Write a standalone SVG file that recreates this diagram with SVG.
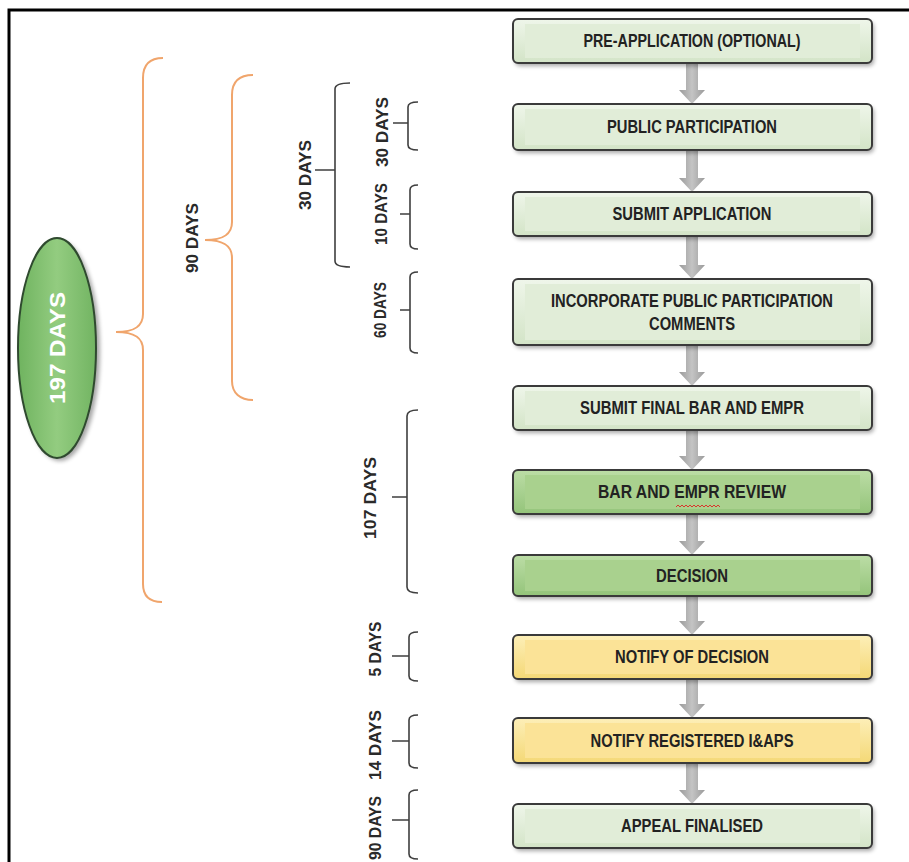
<svg xmlns="http://www.w3.org/2000/svg" width="909" height="862" viewBox="0 0 909 862">
<defs>
<linearGradient id="gL" x1="0" y1="0" x2="0" y2="1"><stop offset="0" stop-color="#eff6ea"/><stop offset="1" stop-color="#d3e4c7"/></linearGradient>
<linearGradient id="gD" x1="0" y1="0" x2="0" y2="1"><stop offset="0" stop-color="#bcdda6"/><stop offset="1" stop-color="#94c47a"/></linearGradient>
<linearGradient id="gY" x1="0" y1="0" x2="0" y2="1"><stop offset="0" stop-color="#fdefb8"/><stop offset="1" stop-color="#f4d876"/></linearGradient>
<linearGradient id="gE" x1="0" y1="0" x2="1" y2="0"><stop offset="0" stop-color="#6fb35f"/><stop offset="0.5" stop-color="#93cc80"/><stop offset="1" stop-color="#72b462"/></linearGradient>
<linearGradient id="gA" x1="0" y1="0" x2="1" y2="0"><stop offset="0" stop-color="#9a9a9a"/><stop offset="0.5" stop-color="#c4c4c4"/><stop offset="1" stop-color="#9a9a9a"/></linearGradient>
<filter id="sh" x="-10%" y="-20%" width="120%" height="150%"><feGaussianBlur stdDeviation="2"/></filter>
</defs>
<style>
.frame{fill:none;stroke:#000;stroke-width:3}
.box{stroke:#3a3a3a;stroke-width:2}
.light{fill:url(#gL)}
.dark{fill:url(#gD)}
.yel{fill:url(#gY)}
.inL{fill:#e1edd8}
.inD{fill:#a9d18e}
.inY{fill:#fbe397}
.shadow{fill:#000;opacity:.35}
.lbl{font-family:"Liberation Sans",Arial,sans-serif;font-weight:bold;font-size:18px;fill:#222;text-anchor:middle}
.side{font-family:"Liberation Sans",Arial,sans-serif;font-weight:bold;font-size:17px;fill:#2a2a2a;text-anchor:middle}
.brace{fill:none;stroke:#f0a56c;stroke-width:2}
.brk{fill:none;stroke:#3f3f3f;stroke-width:1.6}
.arrow{fill:url(#gA)}
</style>
<rect width="909" height="862" fill="#fff"/>
<path class="frame" d="M9,862 L9,10 L909,10"/>

<g id="total">
<ellipse cx="60" cy="351" rx="40" ry="110" class="shadow" filter="url(#sh)"/>
<ellipse cx="57" cy="348" rx="39" ry="110" fill="url(#gE)" stroke="#2f4a2f" stroke-width="2"/>
<text transform="translate(57,348) rotate(-90)" x="0" y="8" font-family="'Liberation Sans',Arial,sans-serif" font-weight="bold" font-size="22" fill="#fff" text-anchor="middle" textLength="112" lengthAdjust="spacingAndGlyphs">197 DAYS</text>
</g>

<g id="brackets">
<path class="brace" d="M163,58 C150,58 143,64 143,78 L143,314 C143,326 135,332 116,332 C135,332 143,338 143,350 L143,584 C143,596 150,602 162,602"/>
<path class="brace" d="M253,75 C240,75 232,81 232,95 L232,222 C232,234 224,240 205,240 C224,240 232,246 232,258 L232,381 C232,393 240,400 253,400"/>
<text class="side" transform="translate(192,238) rotate(-90)" x="0" y="6" textLength="70" lengthAdjust="spacingAndGlyphs">90  DAYS</text>

<path class="brk" d="M350,83 Q335,83 335,89 L335,261 Q335,267 350,267 M315,170 L335,170"/>
<text class="side" transform="translate(305,175) rotate(-90)" x="0" y="6" textLength="70" lengthAdjust="spacingAndGlyphs">30  DAYS</text>

<path class="brk" d="M418,102 Q408,102 408,107 L408,145 Q408,150 418,150 M393,123 L408,123"/>
<text class="side" transform="translate(382,132) rotate(-90)" x="0" y="6" textLength="70" lengthAdjust="spacingAndGlyphs">30  DAYS</text>

<path class="brk" d="M418,185 Q410,185 410,190 L410,244 Q410,249 418,249 M400,214 L410,214"/>
<text class="side" transform="translate(381,214) rotate(-90)" x="0" y="6" textLength="62" lengthAdjust="spacingAndGlyphs">10 DAYS</text>

<path class="brk" d="M418,272 Q410,272 410,277 L410,348 Q410,353 418,353 M400,310 L410,310"/>
<text class="side" transform="translate(380,310) rotate(-90)" x="0" y="6" textLength="56" lengthAdjust="spacingAndGlyphs">60 DAYS</text>

<path class="brk" d="M418,410 Q407,410 407,416 L407,587 Q407,593 418,593 M392,497 L407,497"/>
<text class="side" transform="translate(370,498) rotate(-90)" x="0" y="6" textLength="82" lengthAdjust="spacingAndGlyphs">107  DAYS</text>

<path class="brk" d="M418,632 Q409,632 409,637 L409,676 Q409,681 418,681 M392,656 L409,656"/>
<text class="side" transform="translate(375,649) rotate(-90)" x="0" y="6" textLength="55" lengthAdjust="spacingAndGlyphs">5 DAYS</text>

<path class="brk" d="M418,715 Q409,715 409,720 L409,763 Q409,768 418,768 M392,741 L409,741"/>
<text class="side" transform="translate(375,745) rotate(-90)" x="0" y="6" textLength="70" lengthAdjust="spacingAndGlyphs">14  DAYS</text>

<path class="brk" d="M418,790 Q409,790 409,795 L409,854 Q409,859 418,859 M392,820 L409,820"/>
<text class="side" transform="translate(375,828) rotate(-90)" x="0" y="6" textLength="64" lengthAdjust="spacingAndGlyphs">90  DAYS</text>
</g>

<g id="connectors">
<path class="arrow" d="M686,63 L698,63 L698,90 L705,90 L692,104 L679,90 L686,90 Z"/>
<path class="arrow" d="M686,150 L698,150 L698,178 L705,178 L692,192 L679,178 L686,178 Z"/>
<path class="arrow" d="M686,236 L698,236 L698,265 L705,265 L692,279 L679,265 L686,265 Z"/>
<path class="arrow" d="M686,345 L698,345 L698,372 L705,372 L692,386 L679,372 L686,372 Z"/>
<path class="arrow" d="M686,430 L698,430 L698,456 L705,456 L692,470 L679,456 L686,456 Z"/>
<path class="arrow" d="M686,514 L698,514 L698,541 L705,541 L692,555 L679,541 L686,541 Z"/>
<path class="arrow" d="M686,596 L698,596 L698,621 L705,621 L692,635 L679,621 L686,621 Z"/>
<path class="arrow" d="M686,679 L698,679 L698,704 L705,704 L692,718 L679,704 L686,704 Z"/>
<path class="arrow" d="M686,763 L698,763 L698,790 L705,790 L692,804 L679,790 L686,790 Z"/>
</g>

<g id="n1">
<rect x="515" y="22" width="359" height="44" rx="5" class="shadow" filter="url(#sh)"/>
<rect x="513" y="19" width="359" height="44" rx="5" class="box light"/>
<rect x="525" y="24" width="335" height="34" class="inL"/>
<text class="lbl" x="692" y="47" textLength="217" lengthAdjust="spacingAndGlyphs">PRE-APPLICATION (OPTIONAL)</text>
</g>
<g id="n2">
<rect x="515" y="107" width="359" height="46" rx="5" class="shadow" filter="url(#sh)"/>
<rect x="513" y="104" width="359" height="46" rx="5" class="box light"/>
<rect x="525" y="109" width="335" height="36" class="inL"/>
<text class="lbl" x="692" y="133" textLength="170" lengthAdjust="spacingAndGlyphs">PUBLIC PARTICIPATION</text>
</g>
<g id="n3">
<rect x="515" y="195" width="359" height="44" rx="5" class="shadow" filter="url(#sh)"/>
<rect x="513" y="192" width="359" height="44" rx="5" class="box light"/>
<rect x="525" y="197" width="335" height="34" class="inL"/>
<text class="lbl" x="692" y="220" textLength="159" lengthAdjust="spacingAndGlyphs">SUBMIT APPLICATION</text>
</g>
<g id="n4">
<rect x="515" y="282" width="359" height="66" rx="5" class="shadow" filter="url(#sh)"/>
<rect x="513" y="279" width="359" height="66" rx="5" class="box light"/>
<rect x="525" y="284" width="335" height="56" class="inL"/>
<text class="lbl" x="692" y="307" textLength="282" lengthAdjust="spacingAndGlyphs">INCORPORATE PUBLIC PARTICIPATION</text>
<text class="lbl" x="692" y="330" textLength="86" lengthAdjust="spacingAndGlyphs">COMMENTS</text>
</g>
<g id="n5">
<rect x="515" y="389" width="359" height="44" rx="5" class="shadow" filter="url(#sh)"/>
<rect x="513" y="386" width="359" height="44" rx="5" class="box light"/>
<rect x="525" y="391" width="335" height="34" class="inL"/>
<text class="lbl" x="692" y="414" textLength="224" lengthAdjust="spacingAndGlyphs">SUBMIT FINAL BAR AND EMPR</text>
</g>
<g id="n6">
<rect x="515" y="473" width="359" height="44" rx="5" class="shadow" filter="url(#sh)"/>
<rect x="513" y="470" width="359" height="44" rx="5" class="box dark"/>
<rect x="525" y="475" width="335" height="34" class="inD"/>
<text class="lbl" x="692" y="498" textLength="188" lengthAdjust="spacingAndGlyphs">BAR AND EMPR REVIEW</text>
<path d="M676,507 l2,-2 l2,2 l2,-2 l2,2 l2,-2 l2,2 l2,-2 l2,2 l2,-2 l2,2 l2,-2 l2,2 l2,-2 l2,2 l2,-2 l2,2 l2,-2 l2,2 l2,-2 l2,2 l2,-2 l2,2" fill="none" stroke="#d9342b" stroke-width="1"/>
</g>
<g id="n7">
<rect x="515" y="558" width="359" height="41" rx="5" class="shadow" filter="url(#sh)"/>
<rect x="513" y="555" width="359" height="41" rx="5" class="box dark"/>
<rect x="525" y="560" width="335" height="31" class="inD"/>
<text class="lbl" x="692" y="582" textLength="72" lengthAdjust="spacingAndGlyphs">DECISION</text>
</g>
<g id="n8">
<rect x="515" y="638" width="359" height="44" rx="5" class="shadow" filter="url(#sh)"/>
<rect x="513" y="635" width="359" height="44" rx="5" class="box yel"/>
<rect x="525" y="640" width="335" height="34" class="inY"/>
<text class="lbl" x="692" y="663" textLength="154" lengthAdjust="spacingAndGlyphs">NOTIFY OF DECISION</text>
</g>
<g id="n9">
<rect x="515" y="721" width="359" height="45" rx="5" class="shadow" filter="url(#sh)"/>
<rect x="513" y="718" width="359" height="45" rx="5" class="box yel"/>
<rect x="525" y="723" width="335" height="35" class="inY"/>
<text class="lbl" x="692" y="747" textLength="203" lengthAdjust="spacingAndGlyphs">NOTIFY REGISTERED I&amp;APS</text>
</g>
<g id="n10">
<rect x="515" y="807" width="359" height="44" rx="5" class="shadow" filter="url(#sh)"/>
<rect x="513" y="804" width="359" height="44" rx="5" class="box light"/>
<rect x="525" y="809" width="335" height="34" class="inL"/>
<text class="lbl" x="692" y="832" textLength="142" lengthAdjust="spacingAndGlyphs">APPEAL FINALISED</text>
</g>
</svg>
